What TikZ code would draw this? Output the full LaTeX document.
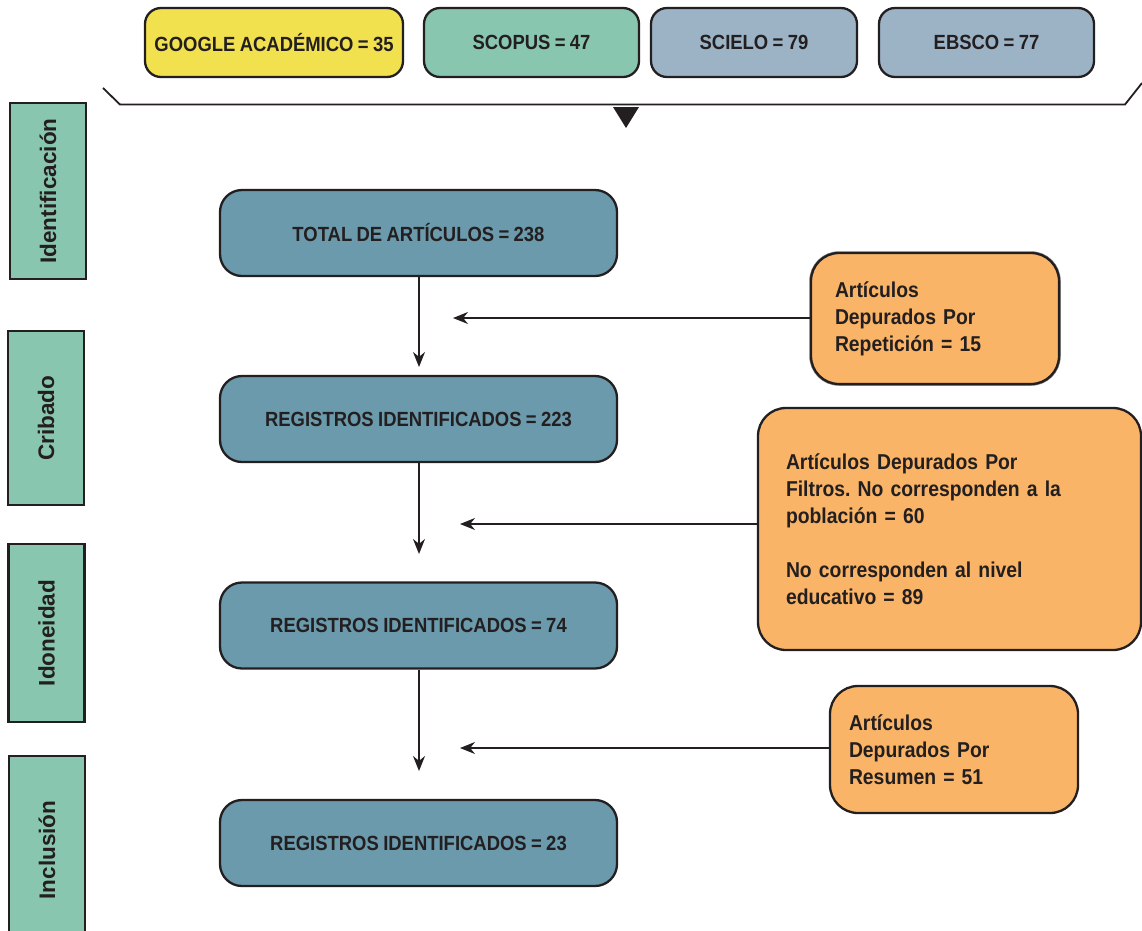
\documentclass[tikz,border=0pt]{standalone}
\usepackage{fontspec}
\setmainfont{Liberation Sans}[FakeStretch=0.9,WordSpace=0.85]
\newfontfamily\phasefont{Liberation Sans}
\usetikzlibrary{arrows.meta}
\frenchspacing
\definecolor{ink}{HTML}{231F20}
\definecolor{cyellow}{HTML}{F2E14F}
\definecolor{cgreen}{HTML}{89C6AF}
\definecolor{cblue}{HTML}{9CB3C6}
\definecolor{cteal}{HTML}{6A9AAC}
\definecolor{corange}{HTML}{F9B467}
\tikzset{
  base/.style={draw=ink, line width=2.3pt, text=ink, font=\bfseries\fontsize{20.5}{27}\selectfont, inner sep=0pt},
  srcbox/.style={base, rounded corners=16pt, minimum height=69pt},
  phase/.style={base, fill=cgreen, minimum height=76pt, rotate=90, font=\phasefont\bfseries\fontsize{22.5}{27}\selectfont},
  mainbox/.style={base, fill=cteal, rounded corners=22pt, minimum width=397pt, minimum height=86pt},
  note/.style={base, fill=corange, rounded corners=28pt, align=left, font=\bfseries\fontsize{21.5}{27}\selectfont},
  flow/.style={draw=ink, line width=1.5pt, -{Stealth[length=15pt,width=12pt]}},
}
\begin{document}
\begin{tikzpicture}[x=1pt,y=-1pt]
\useasboundingbox (0,0) rectangle (1142,930);
% source boxes
\node[srcbox, fill=cyellow, minimum width=258pt] (google) at (274,42.5) {GOOGLE ACADÉMICO = 35};
\node[srcbox, fill=cgreen, minimum width=215pt] (scopus) at (531.5,42.5) {SCOPUS = 47};
\node[srcbox, fill=cblue, minimum width=206pt] (scielo) at (754,42.5) {SCIELO = 79};
\node[srcbox, fill=cblue, minimum width=215pt] (ebsco) at (986.5,42.5) {EBSCO = 77};
% bracket
\coordinate (bl) at (103,88);
\coordinate (bll) at (120,104.5);
\coordinate (brr) at (1125,104.5);
\coordinate (br) at (1142,83);
\draw[draw=ink, line width=1.8pt] (bl) -- (bll) -- (brr) -- (br);
\fill[ink] (613,107) -- (639,107) -- (626,128) -- cycle;
% phase boxes
\node[phase, minimum width=176pt] (ident) at (48,191) {Identificación};
\node[phase, minimum width=174pt] (crib) at (46,418) {Cribado};
\node[phase, minimum width=178pt] (idon) at (46.5,633) {Idoneidad};
\node[phase, minimum width=188pt] (incl) at (47,850) {Inclusión};
% main boxes
\node[mainbox] (total) at (418.5,233) {TOTAL DE ARTÍCULOS = 238};
\node[mainbox] (r223) at (418.5,419) {REGISTROS IDENTIFICADOS = 223};
\node[mainbox] (r74) at (418.5,625.5) {REGISTROS IDENTIFICADOS = 74};
\node[mainbox] (r23) at (418.5,843) {REGISTROS IDENTIFICADOS = 23};
% vertical arrows
\coordinate (e1) at (419,367);
\coordinate (e2) at (419,554);
\coordinate (e3) at (419,771);
\draw[flow] (total.south -| e1) -- (e1);
\draw[flow] (r223.south -| e2) -- (e2);
\draw[flow] (r74.south -| e3) -- (e3);
% notes
\node[note, preaction={draw=gray, line width=3.5pt, rounded corners=28pt}, minimum width=248pt, minimum height=131pt, text width=200pt] (rep) at (935,318.5) {Artículos\\Depurados Por\\Repetición = 15};
\node[note, minimum width=383pt, minimum height=242pt, text width=327pt] (filt) at (949.5,529) {Artículos Depurados Por\\Filtros. No corresponden a la\\población = 60\\[27pt]No corresponden al nivel\\educativo = 89};
\node[note, minimum width=248pt, minimum height=127pt, text width=210pt] (resu) at (954,749.5) {Artículos\\Depurados Por\\Resumen = 51};
% horizontal arrows
\coordinate (h1) at (453,318);
\coordinate (h2) at (460,524);
\coordinate (h3) at (460,748);
\draw[flow] (rep.west |- h1) -- (h1);
\draw[flow] (filt.west |- h2) -- (h2);
\draw[flow] (resu.west |- h3) -- (h3);
\end{tikzpicture}
\end{document}
